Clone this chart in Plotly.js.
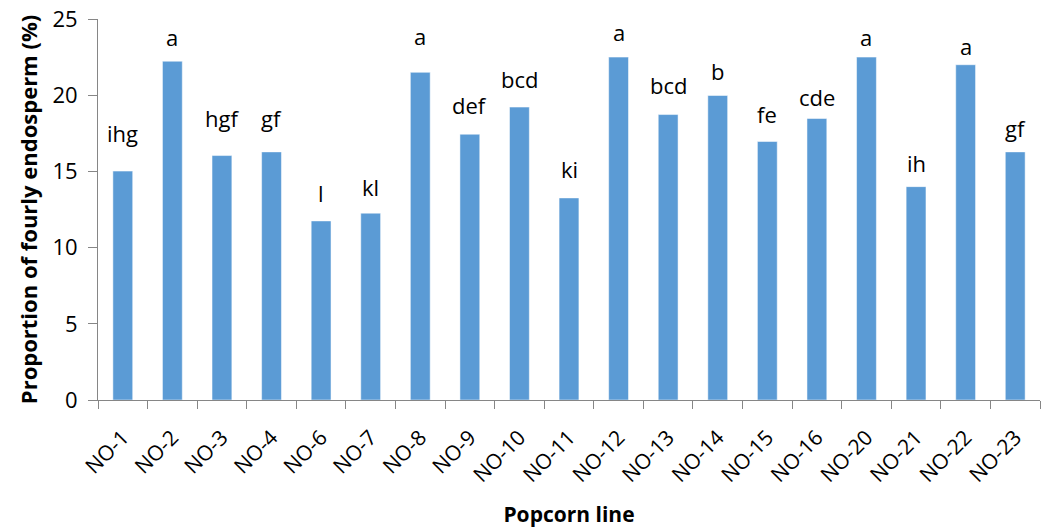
<!DOCTYPE html>
<html>
<head>
<meta charset="utf-8">
<script src="https://cdn.plot.ly/plotly-3.0.1.min.js"></script>
<style>html,body{margin:0;padding:0;background:#fff;}#chart{width:1046px;height:529px;}</style>
</head>
<body>
<div id="chart"></div>
<script>
const lines = ["NO-1","NO-2","NO-3","NO-4","NO-6","NO-7","NO-8","NO-9","NO-10","NO-11","NO-12","NO-13","NO-14","NO-15","NO-16","NO-20","NO-21","NO-22","NO-23"];
const flouryPct = [15.02,22.23,16.04,16.28,11.75,12.26,21.5,17.44,19.22,13.26,22.5,18.73,19.98,16.96,18.47,22.5,14.0,22.0,16.28];
const letters = ["ihg","a","hgf","gf","l","kl","a","def","bcd","ki","a","bcd","b","fe","cde","a","ih","a","gf"];
const letterY = [17.5,23.79,18.5,18.5,13.57,14.0,23.9,19.37,21.07,15.15,24.18,20.68,21.62,18.76,19.87,23.8,15.54,23.2,17.84];

const font = "'Open Sans', 'Liberation Sans', sans-serif";

const trace = {
  type: 'bar',
  x: lines,
  y: flouryPct,
  marker: {color: '#5B9BD5', line: {color: '#ffffff', width: 0.5}},
  hoverinfo: 'x+y'
};

const annotations = lines.map((c, i) => ({
  x: c, y: letterY[i], xref: 'x', yref: 'y',
  text: letters[i], showarrow: false, yanchor: 'middle', xanchor: 'center',
  font: {family: font, size: 22, color: '#000'}
}));

const layout = {
  width: 1046, height: 529,
  margin: {l: 98, r: 6, t: 19, b: 129},
  paper_bgcolor: '#fff', plot_bgcolor: '#fff',
  bargap: 0.6,
  showlegend: false,
  font: {family: font, color: '#000'},
  xaxis: {
    type: 'category', range: [-0.5, 18.5],
    showline: true, linecolor: '#868686', linewidth: 1,
    ticks: 'outside', tickson: 'boundaries', ticklen: 8, tickcolor: '#868686',
    tickangle: -45, tickfont: {family: font, size: 21, color: '#000'},
    ticklabelstandoff: 16,
    showgrid: false, zeroline: false,
    title: {text: '<b>Popcorn line</b>', font: {family: font, size: 21, color: '#000'}, standoff: 20}
  },
  yaxis: {
    range: [0, 25], dtick: 5,
    showline: true, linecolor: '#868686', linewidth: 1,
    ticks: 'outside', ticklen: 9, tickcolor: '#868686',
    tickfont: {family: font, size: 22, color: '#000'},
    ticklabelstandoff: 6,
    showgrid: false, zeroline: false,
    title: {text: '<b>Proportion of fourly endosperm (%)</b>', font: {family: font, size: 22, color: '#000'}, standoff: 8}
  },
  annotations: annotations
};

Plotly.newPlot('chart', [trace], layout, {displayModeBar: false, staticPlot: true});
</script>
</body>
</html>
